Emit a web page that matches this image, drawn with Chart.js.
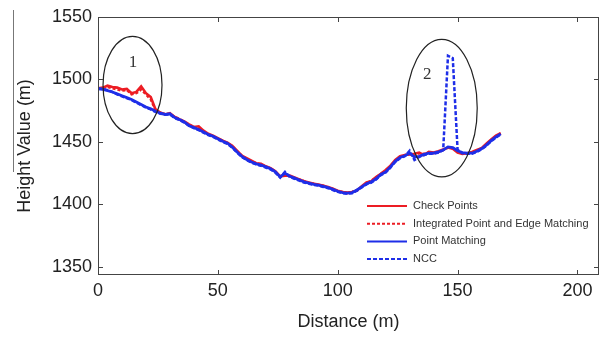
<!DOCTYPE html>
<html>
<head>
<meta charset="utf-8">
<script src="https://cdn.jsdelivr.net/npm/chart.js@4.4.0/dist/chart.umd.min.js"></script>
<style>
html, body { margin: 0; padding: 0; background: #fff; }
</style>
</head>
<body>
<canvas id="profil" width="608" height="337"></canvas>
<script>
// Distances (m)
const distances = [
    0, 2, 4, 6, 8, 10, 12, 14, 16, 18,
    20, 22, 24, 26, 28, 30, 32, 34, 36, 38,
    40, 42, 44, 46, 48, 50, 52, 54, 56, 58,
    60, 62, 64, 66, 68, 70, 72, 74, 76, 78,
    80, 82, 84, 86, 88, 90, 92, 94, 96, 98,
    100, 102, 104, 106, 108, 110, 112, 114, 116, 118,
    120, 122, 124, 126, 128, 130, 132, 134, 136, 138,
    140, 142, 144, 146, 148, 150, 152, 154, 156, 158,
    160, 162, 164, 166, 168
];

const checkPoints = [
    1493, 1493.5, 1495, 1494, 1493.5, 1492, 1492.5, 1489, 1490, 1494.5,
    1489, 1486, 1476, 1473.5, 1472, 1473, 1470, 1468, 1466.5, 1464,
    1462, 1462.5, 1459, 1456.5, 1455, 1453, 1451, 1449.5, 1447, 1443,
    1439, 1437, 1435, 1433, 1432.5, 1430.5, 1429, 1426.5, 1422.5, 1423,
    1423, 1421.5, 1420, 1418.5, 1417.5, 1416.5, 1416, 1415, 1414, 1412.5,
    1411, 1410, 1409.5, 1410, 1411, 1414.5, 1417.5, 1418.5, 1422, 1424.5,
    1427.5, 1431, 1435.5, 1438.5, 1439.5, 1440, 1440.5, 1441.5, 1439.5, 1442,
    1441.5, 1442.5, 1444, 1445.5, 1444.5, 1441.5, 1440.5, 1441, 1442, 1443.5,
    1445, 1448.5, 1452, 1455, 1457
];

const integre = [
    1492.5, 1493, 1494, 1493, 1492, 1491, 1491.5, 1488, 1489, 1492,
    1488, 1484, 1475.5, 1473, 1472.5, 1472.5, 1470, 1468.5, 1466, 1463.5,
    1462, 1461.5, 1458.5, 1456, 1454.5, 1452.5, 1451, 1449, 1446.5, 1442.5,
    1439, 1436.5, 1434.5, 1433, 1432, 1430, 1429, 1426, 1422.5, 1423.5,
    1422.5, 1421, 1420, 1418.5, 1417, 1416.5, 1415.5, 1415, 1413.5, 1412.5,
    1410.5, 1410, 1409, 1410, 1411.5, 1414, 1417, 1419, 1421.5, 1424.5,
    1427, 1430.5, 1435, 1438, 1439.5, 1440.5, 1439.5, 1441, 1440.5, 1441.5,
    1441, 1442, 1443.5, 1445.5, 1445, 1442, 1441, 1441, 1441.5, 1443,
    1445, 1448, 1451.5, 1454.5, 1457
];

const pointMatching = [
    1492.5, 1492, 1491, 1490, 1488.5, 1487, 1485.5, 1484, 1482, 1480,
    1478, 1476.5, 1474.5, 1473, 1472, 1472.5, 1469.5, 1468, 1466, 1463,
    1461.5, 1460, 1458, 1456, 1454.5, 1452.5, 1450.5, 1449, 1446, 1442,
    1438.5, 1436, 1434, 1432.5, 1431.5, 1430, 1428.5, 1426, 1422, 1425,
    1422.5, 1421, 1419.5, 1418, 1417, 1416, 1415.5, 1414.5, 1413.5, 1412,
    1410.5, 1409.5, 1409, 1409.5, 1411.5, 1414, 1416.5, 1418, 1420.5, 1424,
    1426, 1430, 1434.5, 1437.5, 1439, 1441, 1438, 1438.5, 1440, 1441,
    1441, 1442, 1443.5, 1446, 1445.5, 1443, 1441.5, 1441, 1441, 1442.5,
    1444.5, 1447.5, 1451, 1454, 1456.5
];

const ncc = [
    1493, 1492.5, 1491.5, 1490, 1488, 1486.5, 1485, 1483.5, 1481.5, 1479.5,
    1477.5, 1476, 1474, 1472.5, 1472, 1472, 1469, 1467.5, 1465.5, 1463,
    1461, 1459.5, 1457.5, 1455.5, 1454, 1452, 1450, 1448.5, 1445.5, 1441.5,
    1438, 1435.5, 1433.5, 1432, 1431, 1429.5, 1428, 1425.5, 1421.5, 1426,
    1422, 1420.5, 1419, 1417.5, 1416.5, 1415.5, 1415, 1414, 1413, 1411.5,
    1410, 1409, 1408.5, 1409, 1411, 1413.5, 1416, 1417.5, 1420, 1423.5,
    1425.5, 1429.5, 1434, 1437, 1438.5, 1443, 1435.5, 1438, 1439.5, 1440.5,
    1440.5, 1441.5, 1443.5, 1519, 1517, 1444, 1441, 1440.5, 1440.5, 1442,
    1444, 1447, 1450.5, 1453.5, 1456
];

const xTicks = [0, 50, 100, 150, 200];
const yTicks = [1350, 1400, 1450, 1500, 1550];

// zones entourées : centre, demi-axes (unités des données), numéro
const zones = [
    { label: '1', cx: 14.4, cy: 1495.6, rx: 12.3, ry: 38.9, tx: 14.6, ty: 1513.6 },
    { label: '2', cx: 143.4, cy: 1477.1, rx: 14.8, ry: 55, tx: 137.4, ty: 1504 }
];

const ROUGE = '#ec1d24';
const BLEU = '#1e2ee8';
const POLICE = "'Liberation Sans', Arial, sans-serif";

function points(valeurs) {
    return distances.map((d, i) => ({ x: d, y: valeurs[i] }));
}

// Cadre, graduations intérieures et ellipses
const cadre = {
    id: 'cadre',
    afterDatasetsDraw(chart) {
        const ctx = chart.ctx;
        const a = chart.chartArea;
        const sx = chart.scales.x, sy = chart.scales.y;
        ctx.save();

        // ellipses
        ctx.strokeStyle = '#222';
        ctx.lineWidth = 1.2;
        zones.forEach(z => {
            const px = sx.getPixelForValue(z.cx), py = sy.getPixelForValue(z.cy);
            const rx = Math.abs(sx.getPixelForValue(z.cx + z.rx) - px);
            const ry = Math.abs(sy.getPixelForValue(z.cy + z.ry) - py);
            ctx.beginPath();
            ctx.ellipse(px, py, rx, ry, 0, 0, Math.PI * 2);
            ctx.stroke();
            ctx.fillStyle = '#333';
            ctx.font = "17px 'Liberation Serif', 'DejaVu Serif', serif";
            ctx.textAlign = 'center';
            ctx.textBaseline = 'middle';
            ctx.fillText(z.label, sx.getPixelForValue(z.tx), sy.getPixelForValue(z.ty));
        });

        // cadre
        ctx.strokeStyle = '#444';
        ctx.lineWidth = 1;
        ctx.strokeRect(a.left + 0.5, a.top + 0.5, a.right - a.left - 1, a.bottom - a.top - 1);
        ctx.beginPath();
        xTicks.forEach(v => {
            const x = Math.round(sx.getPixelForValue(v)) + 0.5;
            ctx.moveTo(x, a.bottom); ctx.lineTo(x, a.bottom - 5);
            ctx.moveTo(x, a.top); ctx.lineTo(x, a.top + 5);
        });
        yTicks.forEach(v => {
            const y = Math.round(sy.getPixelForValue(v)) + 0.5;
            ctx.moveTo(a.left, y); ctx.lineTo(a.left + 5, y);
            ctx.moveTo(a.right, y); ctx.lineTo(a.right - 5, y);
        });
        ctx.stroke();

        // trait parasite à gauche du titre
        ctx.strokeStyle = '#777';
        ctx.beginPath();
        ctx.moveTo(13.5, 10); ctx.lineTo(13.5, 172);
        ctx.stroke();
        ctx.restore();
    }
};

// Légende dans la zone du graphique
const legende = {
    id: 'legende',
    afterDraw(chart) {
        const ctx = chart.ctx;
        const a = chart.chartArea;
        const x0 = a.left + 269, y0 = a.top + 189, pas = 17.7;
        ctx.save();
        ctx.font = '11px ' + POLICE;
        ctx.textBaseline = 'middle';
        ctx.textAlign = 'left';
        chart.data.datasets.forEach((ds, i) => {
            const y = y0 + i * pas;
            ctx.strokeStyle = ds.borderColor;
            ctx.lineWidth = 2;
            ctx.setLineDash(ds.borderDash || []);
            ctx.beginPath();
            ctx.moveTo(x0, y); ctx.lineTo(x0 + 40, y);
            ctx.stroke();
            ctx.setLineDash([]);
            ctx.fillStyle = '#333';
            ctx.fillText(ds.label, x0 + 46, y);
        });
        ctx.restore();
    }
};

const ctx = document.getElementById('profil').getContext('2d');
new Chart(ctx, {
    type: 'line',
    data: {
        datasets: [{
            label: 'Check Points',
            data: points(checkPoints),
            borderColor: ROUGE,
            borderWidth: 2.6,
            order: 4
        }, {
            label: 'Integrated Point and Edge Matching',
            data: points(integre),
            borderColor: ROUGE,
            borderDash: [3, 2],
            borderWidth: 2.4,
            order: 3
        }, {
            label: 'Point Matching',
            data: points(pointMatching),
            borderColor: BLEU,
            borderWidth: 2.8,
            order: 2
        }, {
            label: 'NCC',
            data: points(ncc),
            borderColor: BLEU,
            borderDash: [4, 2],
            borderWidth: 2.5,
            order: 1
        }]
    },
    options: {
        responsive: false,
        animation: false,
        devicePixelRatio: 1,
        elements: { point: { radius: 0 }, line: { tension: 0 } },
        layout: { padding: { top: 17, right: 9, left: 0, bottom: 0 } },
        plugins: {
            legend: { display: false },
            tooltip: { enabled: false }
        },
        scales: {
            x: {
                type: 'linear',
                min: 0,
                max: 209,
                afterFit: s => { s.height = 62; },
                afterBuildTicks: s => { s.ticks = xTicks.map(v => ({ value: v })); },
                grid: { display: false, drawTicks: false },
                border: { display: false },
                ticks: { padding: 5, color: '#222', font: { family: POLICE, size: 18 }, maxRotation: 0, callback: v => String(v) },
                title: { display: true, text: 'Distance (m)', color: '#222', font: { family: POLICE, size: 18 }, padding: { top: 0, bottom: 4 } }
            },
            y: {
                min: 1343.5,
                max: 1550,
                afterFit: s => { s.width = 98; },
                afterBuildTicks: s => { s.ticks = yTicks.map(v => ({ value: v })); },
                grid: { display: false, drawTicks: false },
                border: { display: false },
                ticks: { padding: 6, color: '#222', font: { family: POLICE, size: 18 }, callback: v => String(v) },
                title: { display: true, text: 'Height Value (m)', color: '#222', font: { family: POLICE, size: 18 }, padding: { top: 14, bottom: 0 } }
            }
        }
    },
    plugins: [cadre, legende]
});
</script>
</body>
</html>
